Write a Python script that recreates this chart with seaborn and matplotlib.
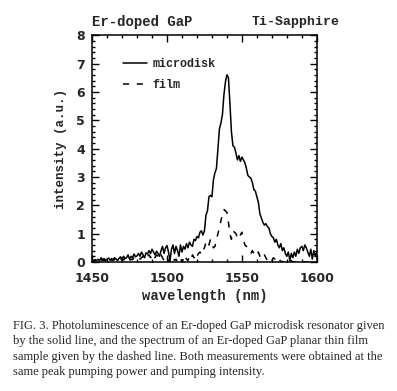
import numpy as np
import pandas as pd
import seaborn as sns
import matplotlib.pyplot as plt
from matplotlib.ticker import MultipleLocator

# wavelength grid (nm) and intensities
wavelength = list(range(1450, 1601))

microdisk = [
    0.12, 0.02, 0.08, 0.05, 0.10, 0.03, 0.15, 0.08, 0.12, 0.05,
    0.10, 0.14, 0.06, 0.12, 0.08, 0.15, 0.10, 0.05, 0.13, 0.18,
    0.10, 0.20, 0.12, 0.15, 0.25, 0.10, 0.20, 0.15, 0.28, 0.18,
    0.22, 0.30, 0.20, 0.35, 0.25, 0.15, 0.32, 0.28, 0.40, 0.30,
    0.45, 0.35, 0.25, 0.38, 0.30, 0.20, 0.40, 0.55, 0.30, 0.50,
    0.58, 0.35, 0.05, 0.45, 0.60, 0.30, 0.55, 0.40, 0.20, 0.60,
    0.35, 0.55, 0.45, 0.65, 0.50, 0.70, 0.60, 0.55, 0.80, 0.75,
    0.90, 0.85, 1.05, 1.10, 0.95, 1.10, 1.65, 1.80, 2.30, 2.35,
    2.30, 2.90, 3.15, 3.30, 4.00, 4.70, 4.90, 5.20, 5.90, 6.35,
    6.60, 6.50, 5.60, 4.60, 4.10, 4.05, 3.85, 3.60, 3.75, 3.55,
    3.70, 3.60, 3.50, 3.30, 3.05, 3.00, 2.95, 2.80, 2.55, 2.50,
    2.30, 2.10, 1.70, 1.55, 1.40, 1.30, 1.35, 1.25, 1.20, 1.00,
    0.90, 0.85, 0.70, 0.80, 0.60, 0.50, 0.65, 0.40, 0.50, 0.30,
    0.20, 0.35, 0.05, 0.30, 0.15, 0.35, 0.20, 0.45, 0.30, 0.50,
    0.55, 0.40, 0.60, 0.50, 0.35, 0.20, 0.45, 0.10, 0.40, 0.20,
    0.35,
]

film = [
    0.05, 0.00, 0.08, 0.02, 0.06, 0.00, 0.10, 0.04, 0.07, 0.02,
    0.06, 0.10, 0.03, 0.08, 0.05, 0.10, 0.04, 0.00, 0.08, 0.12,
    0.05, 0.10, 0.06, 0.12, 0.15, 0.05, 0.10, 0.08, 0.15, 0.10,
    0.12, 0.18, 0.10, 0.15, 0.20, 0.08, 0.15, 0.20, 0.25, 0.15,
    0.20, 0.30, 0.15, 0.25, 0.20, 0.10, 0.25, 0.15, 0.05, 0.20,
    0.15, 0.05, 0.00, 0.10, 0.20, 0.05, 0.10, 0.00, 0.05, 0.15,
    0.00, 0.10, 0.25, 0.10, 0.05, 0.20, 0.10, 0.25, 0.15, 0.30,
    0.20, 0.30, 0.35, 0.25, 0.40, 0.50, 0.70, 0.75, 0.60, 0.80,
    0.60, 0.50, 0.55, 0.80, 1.00, 1.20, 1.45, 1.70, 1.85, 1.80,
    1.75, 1.40, 1.00, 0.80, 1.10, 1.05, 1.00, 0.85, 1.00, 0.95,
    1.05, 0.80, 0.60, 0.55, 0.45, 0.35, 0.30, 0.40, 0.30, 0.20,
    0.25, 0.35, 0.20, 0.10, 0.20, 0.25, 0.15, 0.05, 0.10, 0.00,
    0.05, 0.15, 0.10, 0.00, 0.05, 0.10, 0.00, 0.02, 0.00, 0.05,
    0.00, 0.02, 0.00, 0.05, 0.00, 0.00, 0.03, 0.00, 0.00, 0.02,
    0.00, 0.00, 0.00, 0.00, 0.00, 0.00, 0.00, 0.00, 0.00, 0.00,
    0.00,
]

sns.set_style('ticks')
plt.rcParams['font.family'] = ['DejaVu Sans']

fig = plt.figure(figsize=(3.97, 3.91), dpi=100)
ax = fig.add_axes([0.232, 0.330, 0.566, 0.580])

sns.lineplot(x=wavelength, y=microdisk, ax=ax, color='black', linewidth=1.1,
             label='microdisk')
sns.lineplot(x=wavelength, y=film, ax=ax, color='black', linewidth=1.1,
             linestyle=(0, (4, 5)), label='film')

ax.set_xlim(1450, 1600)
ax.set_ylim(0, 8)
ax.xaxis.set_major_locator(MultipleLocator(50))
ax.xaxis.set_minor_locator(MultipleLocator(10))
ax.yaxis.set_major_locator(MultipleLocator(1))
ax.yaxis.set_minor_locator(MultipleLocator(0.2))
ax.tick_params(which='both', direction='in', top=True, right=True, width=1, color='black')
ax.tick_params(which='major', length=5, labelsize=9)
ax.tick_params(axis='x', which='major', pad=7)
ax.tick_params(axis='y', which='major', pad=5)
ax.tick_params(which='minor', length=2.5)
for lab in ax.get_xticklabels() + ax.get_yticklabels():
    lab.set_fontweight('bold')
for sp in ax.spines.values():
    sp.set_linewidth(1.1)
    sp.set_color('black')

mono = 'Liberation Mono'
ax.set_xlabel('wavelength (nm)', family=mono, fontweight='bold', fontsize=10, labelpad=3)
ax.set_ylabel('intensity (a.u.)', family=mono, fontweight='bold', fontsize=9, labelpad=7)

leg = ax.legend(loc='upper left', bbox_to_anchor=(0.09, 0.945), frameon=False,
                handlelength=2.0, handletextpad=0.5, labelspacing=0.75,
                prop={'family': mono, 'weight': 'bold', 'size': 8.5})

fig.text(0.232, 0.945, 'Er-doped GaP', family=mono, fontweight='bold', fontsize=10,
         ha='left', va='center')
fig.text(0.855, 0.945, 'Ti-Sapphire', family=mono, fontweight='bold', fontsize=9.5,
         ha='right', va='center')

caption = [
    'FIG. 3. Photoluminescence of an Er-doped GaP microdisk resonator given',
    'by the solid line, and the spectrum of an Er-doped GaP planar thin film',
    'sample given by the dashed line. Both measurements were obtained at the',
    'same peak pumping power and pumping intensity.',
]
for i, line in enumerate(caption):
    fig.text(0.033, 1 - (326 + i * 15.3) / 391, line, family='Liberation Serif',
             fontsize=9.0, ha='left', va='center')

fig.savefig('out.png', dpi=100)
